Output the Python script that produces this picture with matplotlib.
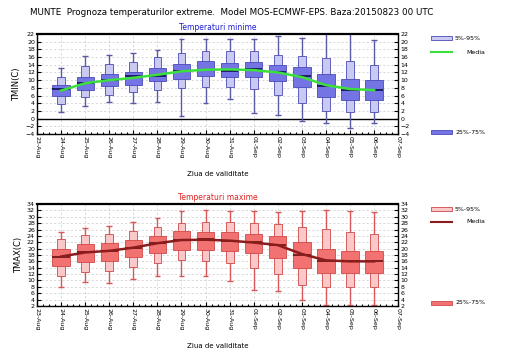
import numpy as np
import matplotlib
matplotlib.use("Agg")
import matplotlib.pyplot as plt
from matplotlib.patches import Rectangle
from matplotlib.lines import Line2D

days = ["23-Aug", "24-Aug", "25-Aug", "26-Aug", "27-Aug", "28-Aug", "29-Aug", "30-Aug",
        "31-Aug", "01-Sep", "02-Sep", "03-Sep", "04-Sep", "05-Sep", "06-Sep", "07-Sep"]

# Minimum temperature (24-Aug .. 06-Sep)
tmin_min = [1.6, 3.2, 4.2, 4.1, 4.4, 0.8, 4.0, 5.1, 1.5, 0.9, -0.7, -1.2, -2.5, -1.2]
tmin_p05 = [3.8, 5.5, 6.2, 6.8, 7.5, 7.9, 8.3, 8.1, 7.7, 6.2, 4.0, 2.1, 1.6, 1.6]
tmin_q25 = [5.8, 7.5, 8.6, 8.8, 9.7, 10.3, 11.0, 10.7, 10.7, 9.7, 8.3, 5.7, 4.8, 4.8]
tmin_med = [7.7, 9.2, 10.0, 11.0, 11.2, 12.5, 12.7, 12.5, 12.9, 12.2, 11.0, 8.6, 7.5, 7.5]
tmin_q75 = [8.7, 10.7, 11.6, 12.0, 13.1, 14.2, 14.9, 14.4, 14.6, 14.0, 13.3, 11.6, 10.3, 10.0]
tmin_p95 = [10.7, 13.6, 14.2, 14.6, 15.9, 17.0, 17.5, 17.5, 17.5, 16.6, 16.2, 15.7, 14.9, 13.9]
tmin_max = [13.2, 16.2, 16.5, 17.0, 17.9, 20.7, 20.7, 20.7, 20.7, 21.4, 20.9, 23.0, 23.0, 20.4]
tmin_mean = [7.3, 9.2, 10.0, 10.6, 11.4, 12.3, 12.7, 12.8, 12.6, 12.0, 10.8, 8.7, 7.7, 7.4]

# Maximum temperature (24-Aug .. 06-Sep)
tmax_min = [7.8, 9.6, 9.3, 10.3, 11.4, 11.4, 11.4, 9.8, 7.0, 6.7, 3.8, 2.4, 2.2, 2.2]
tmax_p05 = [11.5, 12.7, 13.1, 14.1, 15.4, 16.4, 16.2, 15.4, 13.8, 12.0, 8.7, 7.8, 7.8, 7.8]
tmax_q25 = [14.6, 15.9, 16.1, 17.3, 18.5, 19.6, 19.6, 19.4, 18.7, 17.0, 14.0, 12.2, 12.2, 12.2]
tmax_med = [17.5, 18.8, 19.2, 20.3, 21.8, 22.8, 23.0, 22.5, 22.0, 21.0, 18.0, 16.2, 16.0, 16.0]
tmax_q75 = [19.9, 21.3, 21.7, 22.7, 24.1, 25.4, 25.1, 25.1, 24.6, 24.1, 22.2, 19.8, 19.3, 19.3]
tmax_p95 = [22.9, 24.2, 24.5, 25.6, 26.9, 28.0, 28.3, 28.3, 28.2, 27.7, 26.9, 26.1, 25.1, 24.5]
tmax_max = [25.1, 26.4, 27.2, 28.5, 29.6, 31.7, 32.0, 31.7, 31.7, 31.4, 31.7, 32.0, 31.7, 31.4]
tmax_mean = [17.5, 18.8, 19.3, 20.3, 21.7, 22.7, 22.8, 22.5, 21.9, 21.1, 18.3, 16.3, 16.0, 16.0]


def draw_panel(ax, st, ylim, cols, title, ylabel):
    mn, p05, q25, med, q75, p95, mx, mean = st
    x = np.arange(1, len(med) + 1)
    ax.set_xlim(0, len(days) - 1)
    ax.set_ylim(*ylim)
    ax.vlines(x, mn, mx, color=cols["wh"], lw=1.0, zorder=2)
    ax.hlines(mn, x - 0.12, x + 0.12, color=cols["wh"], lw=1.0, zorder=2)
    ax.hlines(mx, x - 0.12, x + 0.12, color=cols["wh"], lw=1.0, zorder=2)
    ax.bar(x, np.array(p95) - np.array(p05), bottom=p05, width=0.32,
           color=cols["light"], edgecolor=cols["edge"], lw=0.6, zorder=3)
    ax.bar(x, np.array(q75) - np.array(q25), bottom=q25, width=0.72,
           color=cols["dark"], edgecolor=cols["edge"], lw=0.6, zorder=4)
    ax.hlines(med, x - 0.36, x + 0.36, color=cols["med"], lw=1.2, zorder=5)
    ax.plot(x, mean, color=cols["mean"], lw=1.8, zorder=6)

    ax.set_xticks(np.arange(len(days)))
    ax.set_xticklabels(days, rotation=270, fontsize=4.5)
    ax.set_xticks(np.arange(0, len(days) - 1, 0.25), minor=True)
    ax.set_yticks(np.arange(ylim[0], ylim[1] + 1, 2))
    ax.tick_params(axis="both", which="both", direction="in", top=False,
                   right=True, labelright=True, labelsize=4.5, pad=1.5,
                   length=3, width=0.8)
    ax.tick_params(axis="x", which="minor", length=1.5)
    ax.grid(True, which="major", color="#c8c8c8", ls=(0, (3, 3)), lw=0.5)
    ax.set_axisbelow(True)
    for s in ax.spines.values():
        s.set_linewidth(1.0)
    ax.spines["top"].set_linewidth(1.6)
    ax.set_title(title, color=cols["title"], fontsize=5.5, pad=3)
    ax.set_ylabel(ylabel, fontsize=6, labelpad=3)
    ax.set_xlabel("Ziua de validitate", fontsize=5, labelpad=9)


fig = plt.figure(figsize=(5.25, 3.5), dpi=100)
ax1 = fig.add_axes([0.0705, 0.617, 0.688, 0.286])
ax2 = fig.add_axes([0.0705, 0.126, 0.688, 0.291])

blue = dict(wh="#5a5aa8", light="#c9c9f2", dark="#7474e4", edge="#4a4ab8",
            med="#101050", mean="#3ce03c", title="#2020d0")
red = dict(wh="#d85858", light="#fac8c8", dark="#f27272", edge="#d04848",
           med="#6a1010", mean="#8a1c1c", title="#e02020")

draw_panel(ax1, [tmin_min, tmin_p05, tmin_q25, tmin_med, tmin_q75, tmin_p95, tmin_max, tmin_mean],
           (-4, 22), blue, "Temperaturi minime", "TMIN(C)")
ax1.axhline(0, color="black", lw=1.0, zorder=1)
draw_panel(ax2, [tmax_min, tmax_p05, tmax_q25, tmax_med, tmax_q75, tmax_p95, tmax_max, tmax_mean],
           (2, 34), red, "Temperaturi maxime", "TMAX(C)")

fig.text(0.058, 0.965, "MUNTE  Prognoza temperaturilor extreme.  Model MOS-ECMWF-EPS. Baza:20150823 00 UTC",
         fontsize=6.3, ha="left", va="center")


def legend(cols, y_top, y_media, y_bot):
    W, H = 525.0, 350.0
    x0, w = 431 / W, 21 / W
    fig.patches.append(Rectangle((x0, 1 - (y_top + 2) / H), w, 4 / H, transform=fig.transFigure,
                                 facecolor=cols["light"], edgecolor=cols["edge"], lw=0.6))
    fig.text(455 / W, 1 - y_top / H, "5%-95%", fontsize=4.5, va="center")
    fig.lines.append(Line2D([x0, x0 + w], [1 - y_media / H] * 2, transform=fig.transFigure,
                            color=cols["mean"], lw=1.5))
    fig.text(466 / W, 1 - y_media / H, "Media", fontsize=4.5, va="center")
    fig.patches.append(Rectangle((x0, 1 - (y_bot + 2) / H), w, 4 / H, transform=fig.transFigure,
                                 facecolor=cols["dark"], edgecolor=cols["edge"], lw=0.6))
    fig.text(455 / W, 1 - y_bot / H, "25%-75%", fontsize=4.5, va="center")


legend(blue, 38, 52, 132)
legend(red, 209, 222, 303)

fig.savefig("out.png", dpi=100)
